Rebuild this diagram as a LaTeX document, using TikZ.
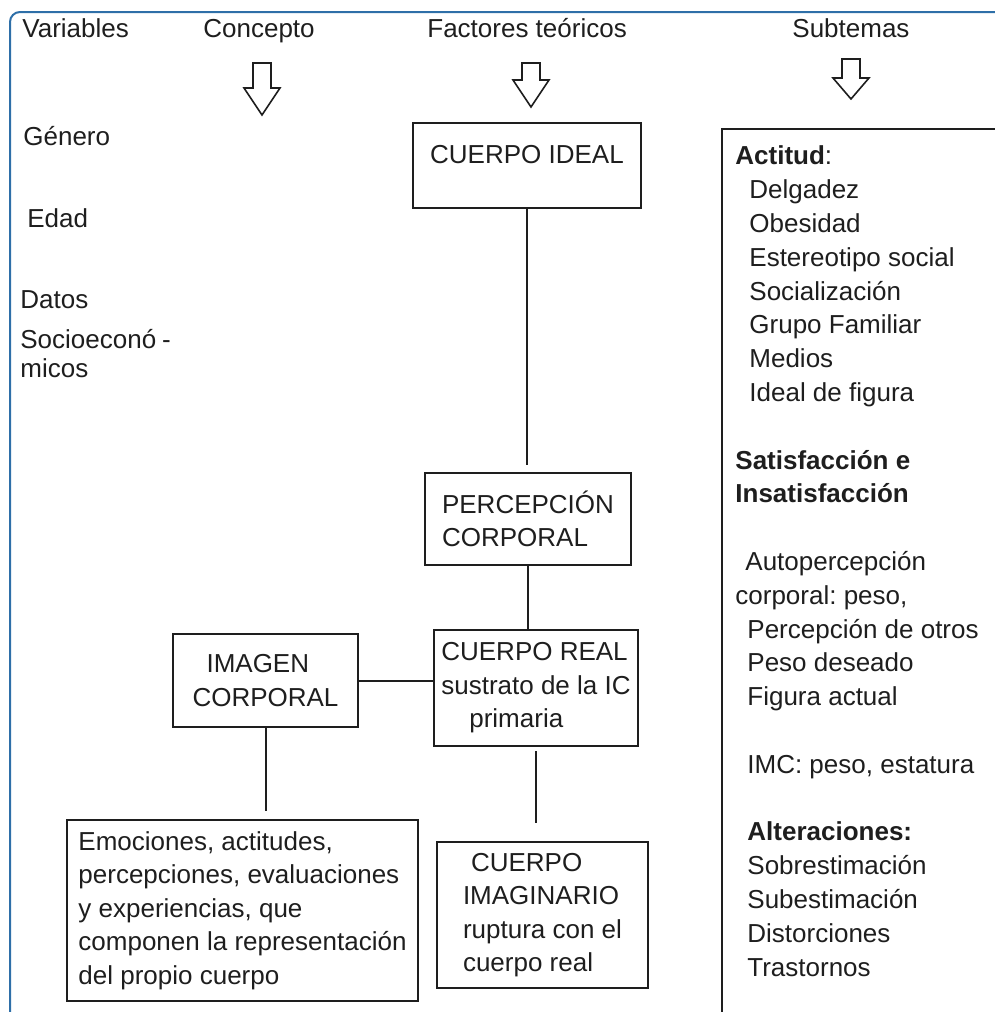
\documentclass[tikz,border=0pt]{standalone}
\usepackage{fontspec}
\setmainfont{Liberation Sans}
\frenchspacing
\definecolor{framecol}{RGB}{46,111,168}
\definecolor{inkcol}{RGB}{30,30,30}
\begin{document}
\begin{tikzpicture}[x=0.5pt,y=-0.5pt,
        txt/.style={anchor=base west,inner sep=0pt,text=inkcol,font=\fontsize{13}{16.7}\selectfont},
        box/.style={draw=inkcol,line width=1pt,anchor=north west,align=left,inner sep=0pt,text=inkcol,font=\fontsize{13}{16.7}\selectfont},
        link/.style={draw=inkcol,line width=1pt}]
    \useasboundingbox (0,0) rectangle (995,1012);
    \draw[framecol,line width=1pt,rounded corners=5pt] (10,1012) -- (10,12) -- (995,12);
    \node[txt] (hvar) at (22,38) {Variables};
    \node[txt] (hcon) at (203,38) {Concepto};
    \node[txt] (hfac) at (427,38) {Factores teóricos};
    \node[txt] (hsub) at (792,38) {Subtemas};
    \foreach \x/\t/\s/\b in {262/63/88/115,531/63/80/107,851/59/78/99}
    {
        \draw[inkcol,line width=0.8pt] ({\x-9},\t) -- ({\x+9},\t) -- ({\x+9},\s) -- ({\x+18},\s) -- (\x,\b) -- ({\x-18},\s) -- ({\x-9},\s) -- cycle;
    }
    \node[txt] (gen) at (23,145) {Género};
    \node[txt] (edad) at (27,227) {Edad};
    \node[txt] (datos) at (20,308) {Datos};
    \node[txt] (socio) at (20,348) {Socioeconó\hspace{3pt}-};
    \node[txt] (micos) at (20,377) {micos};
    \node[box,minimum width=114pt,minimum height=42.5pt,align=center] (ideal) at (412,122) {CUERPO IDEAL\rule[-11.5pt]{0pt}{0pt}};
    \node[box,minimum width=103pt,minimum height=46pt] (percep) at (424,472) {PERCEPCIÓN\\CORPORAL};
    \node[box,minimum width=102pt,minimum height=58pt] (real) at (433,629) {CUERPO REAL\\sustrato de la IC\\\hspace*{14pt}primaria};
    \node[box,minimum width=105.5pt,minimum height=73pt] (imag) at (436,841) {\hspace*{4pt}CUERPO\\IMAGINARIO\\ruptura con el\\cuerpo real};
    \node[box,minimum width=92.5pt,minimum height=46.5pt] (imagen) at (172,633) {\hspace*{7pt}IMAGEN\\CORPORAL};
    \node[box,minimum width=175.5pt,minimum height=90.5pt] (emo) at (66,819) {Emociones, actitudes,\\percepciones, evaluaciones\\y experiencias, que\\componen la representación\\del propio cuerpo};
    \draw[link,shorten >=3.5pt] (ideal.south) -- (ideal.south |- percep.north);
    \draw[link] (percep.south) -- (percep.south |- real.north);
    \draw[link,shorten <=2pt,shorten >=9pt] (real.south) -- (real.south |- imag.north);
    \draw[link] (imagen.east) -- (imagen.east -| real.west);
    \draw[link,shorten >=4pt] (imagen.south) -- (imagen.south |- emo.north);
    \draw[link] (722,1012) -- (722,129) -- (995,129);
    \node[txt,align=left,font=\fontsize{13}{16.9}\selectfont] (subt) at (735,976) {\textbf{Actitud}:\\
        \hspace*{7pt}Delgadez\\
        \hspace*{7pt}Obesidad\\
        \hspace*{7pt}Estereotipo social\\
        \hspace*{7pt}Socialización\\
        \hspace*{7pt}Grupo Familiar\\
        \hspace*{7pt}Medios\\
        \hspace*{7pt}Ideal de figura\\
        \mbox{}\\
        \textbf{Satisfacción e}\\
        \textbf{Insatisfacción}\\
        \mbox{}\\
        \hspace*{5pt}Autopercepción\\
        corporal: peso,\\
        \hspace*{6pt}Percepción de otros\\
        \hspace*{6pt}Peso deseado\\
        \hspace*{6pt}Figura actual\\
        \mbox{}\\
        \hspace*{6pt}IMC: peso, estatura\\
        \mbox{}\\
        \hspace*{6pt}\textbf{Alteraciones:}\\
        \hspace*{6pt}Sobrestimación\\
        \hspace*{6pt}Subestimación\\
        \hspace*{6pt}Distorciones\\
        \hspace*{6pt}Trastornos};
\end{tikzpicture}
\end{document}
